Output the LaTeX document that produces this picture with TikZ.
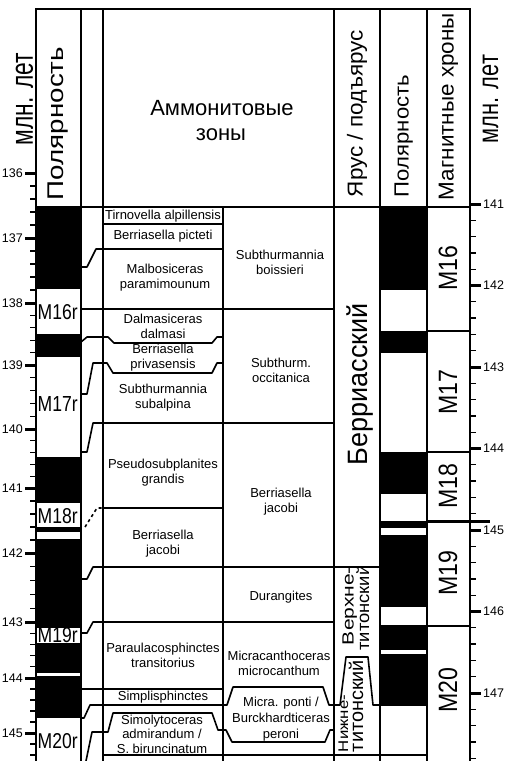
\documentclass[tikz,border=0pt]{standalone}
\usepackage{fontspec}
\setmainfont{Liberation Sans}
\usepackage{graphicx}
% rotated label: font size, length, text
\newcommand{\rlab}[3]{\resizebox{#2pt}{\height}{\fontsize{#1}{#1}\selectfont #3}}
\begin{document}
\begin{tikzpicture}[x=1pt,y=-1pt,
  frame/.style={line width=2pt},
  bnd/.style={line width=1.6pt, line join=round},
  zone/.style={font=\fontsize{13}{15}\selectfont, align=center, inner sep=0pt},
  rot/.style={rotate=90, inner sep=0pt, anchor=base},
  pol/.style={inner sep=0pt, anchor=west},
  axl/.style={font=\fontsize{12.5}{12.5}\selectfont, inner sep=0pt},
  majt/.style={line width=3pt},
  mint/.style={line width=1.3pt}]
\useasboundingbox (0,0) rectangle (505,761);

% ---------- polarity fills ----------
\foreach \a/\b in {207/289,334/357,457/503,527/532,539/628,643/673,676/718}
  \fill[black] (37,\a) rectangle (80,\b);
\foreach \a/\b in {207/290,331/353,452/494,521/528,535/607,625/650,654/706}
  \fill[black] (381,\a) rectangle (426,\b);

% ---------- frame and columns ----------
\draw[frame] (35,9) -- (471,9);
\draw[frame] (36,207) -- (470,207);
\foreach \x in {36,81,103,334,380,427,470}
  \draw[frame] (\x,9) -- (\x,761);
\draw[frame] (223,207) -- (223,761);
\draw[bnd] (103,755) -- (427,755);

% ---------- zone boundaries and correlation lines ----------
\draw[bnd] (103,224) -- (223,224);
\draw[bnd] (81,267) -- (87,267) -- (96,249) -- (223,249);
\draw[bnd] (81,309) -- (334,309);
\draw[bnd] (81,342) -- (87,337) -- (108,337) -- (114,343) -- (212,343) -- (217,337) -- (223,337);
\draw[bnd] (81,394) -- (87,394) -- (93,363) -- (107,363) -- (113,373) -- (212,373) -- (217,363) -- (223,363);
\draw[bnd] (81,452) -- (87,452) -- (93,423) -- (334,423);
\draw[bnd, dash pattern=on 3pt off 3pt] (85,527) -- (97,508) -- (103,508);
\draw[bnd] (103,508) -- (223,508);
\draw[bnd] (81,579) -- (87,579) -- (93,567) -- (380,567);
\draw[bnd] (81,633) -- (87,633) -- (93,622) -- (334,622);
\draw[bnd] (81,689) -- (223,689);
\draw[bnd] (81,718) -- (84,718) -- (90,705) -- (227,705) -- (233,687) -- (323,687) -- (329,705) -- (340,705) -- (346,657) -- (368,657) -- (373,705) -- (380,705);
\draw[bnd] (86,761) -- (92,732) -- (108,732) -- (113,713) -- (212,713) -- (218,730) -- (226,730) -- (232,742) -- (325,742) -- (330,730) -- (334,730);

% ---------- chron boundaries ----------
\draw[bnd] (427,331) -- (470,331);
\draw[bnd] (427,452) -- (470,452);
\draw[line width=3pt] (427,521) -- (490,521);
\draw[bnd] (427,626) -- (470,626);

% ---------- left axis ----------
\foreach \v/\y in {136/173,137/238,138/303,139/365,140/429,141/488,142/553,143/622,144/678,145/733}{
  \draw[majt] (25,\y) -- (36,\y);
  \node[axl, anchor=east] (la\v) at (23,\y) {\v};
}
\foreach \y in {186,199,212,225,251,264,277,290,315.4,327.8,340.2,352.6,377.8,390.6,403.4,416.2,
  440.8,452.6,464.4,476.2,501,514,527,540,566.8,580.6,594.4,608.2,633.2,644.4,655.6,666.8,
  689,700,711,722,744,755}
  \draw[mint] (30,\y) -- (36,\y);

% ---------- right axis ----------
\foreach \v [evaluate=\v as \yy using 204+81.5*(\v-141)] in {141,...,147}{
  \draw[majt] (470,\yy) -- (481,\yy);
  \node[axl, anchor=west] (ra\v) at (483,\yy) {\v};
}
\foreach \m in {0,...,6}
  \foreach \j in {1,...,4}
    \draw[mint] (470,{204+81.5*\m+16.3*\j}) -- (476,{204+81.5*\m+16.3*\j});

% ---------- header labels ----------
\node[rot] (mlnL) at (33,99) {\rlab{31.8}{92}{млн. лет}};
\node[rot] (polL) at (63,123.5) {\rlab{22.7}{153}{Полярность}};
\node[font=\fontsize{22}{22}\selectfont, inner sep=0pt, anchor=base] (amm) at (222,115) {Аммонитовые};
\node[font=\fontsize{22}{22}\selectfont, inner sep=0pt, anchor=base] (zon) at (221,140) {зоны};
\node[rot] (yar) at (362.5,113.5) {\rlab{21.6}{167}{Ярус / подъярус}};
\node[rot] (polR) at (408.7,136) {\rlab{20.5}{122}{Полярность}};
\node[rot] (mag) at (453.5,106.5) {\rlab{21.6}{187}{Магнитные хроны}};
\node[rot] (mlnR) at (498,99) {\rlab{29}{88}{млн. лет}};

% ---------- left polarity labels ----------
\foreach \n/\y in {M16r/312.5,M17r/404,M18r/516,M19r/635.5,M20r/741.5}
  \node[pol] (p\n) at (37.5,\y) {\resizebox{40pt}{15pt}{\n}};

% ---------- chron labels ----------
\foreach \n/\y in {M16/268,M17/392,M18/486,M19/573,M20/690}
  \node[rot] (c\n) at (457,\y) {\rlab{26.5}{45}{\n}};

% ---------- stage labels ----------
\node[rot] (ber) at (367,384) {\rlab{28}{162}{Берриасский}};
\node[rot] (vt1) at (353.6,606) {\rlab{16.2}{78}{Верхне-}};
\node[rot] (vt2) at (369,608) {\rlab{17.3}{85}{титонский}};
\node[rot] (nt1) at (348,723.5) {\rlab{14}{57}{Нижне-}};
\node[rot] (nt2) at (363,706) {\rlab{19.3}{92}{титонский}};

% ---------- ammonite zones, column 1 ----------
\node[zone] (tir) at (163,216) {Tirnovella alpillensis};
\node[zone] (pic) at (163,236.5) {Berriasella picteti};
\node[zone] (mal) at (165,278) {Malbosiceras\\paramimounum};
\node[zone] (dal) at (163,326) {Dalmasiceras\\dalmasi};
\node[zone] (pri) at (163,358) {Berriasella\\privasensis};
\node[zone] (sub) at (163,398) {Subthurmannia\\subalpina};
\node[zone] (gra) at (163,473) {Pseudosubplanites\\grandis};
\node[zone] (jac1) at (163,544) {Berriasella\\jacobi};
\node[zone] (tra) at (163,655) {Paraulacosphinctes\\transitorius};
\node[zone] (sim) at (163,697) {Simplisphinctes};
\node[zone, font=\fontsize{13}{14.5}\selectfont] (smo) at (162,734) {Simolytoceras\\admirandum /\\S. biruncinatum};

% ---------- ammonite zones, column 2 ----------
\node[zone] (boi) at (280,262) {Subthurmannia\\boissieri};
\node[zone] (occ) at (281,370) {Subthurm.\\occitanica};
\node[zone] (jac2) at (281,502) {Berriasella\\jacobi};
\node[zone] (dur) at (281,597) {Durangites};
\node[zone] (mic) at (279,663) {Micracanthoceras\\microcanthum};
\node[zone, font=\fontsize{13}{16}\selectfont] (pon) at (281,719) {Micra. ponti /\\Burckhardticeras\\peroni};
\end{tikzpicture}
\end{document}
